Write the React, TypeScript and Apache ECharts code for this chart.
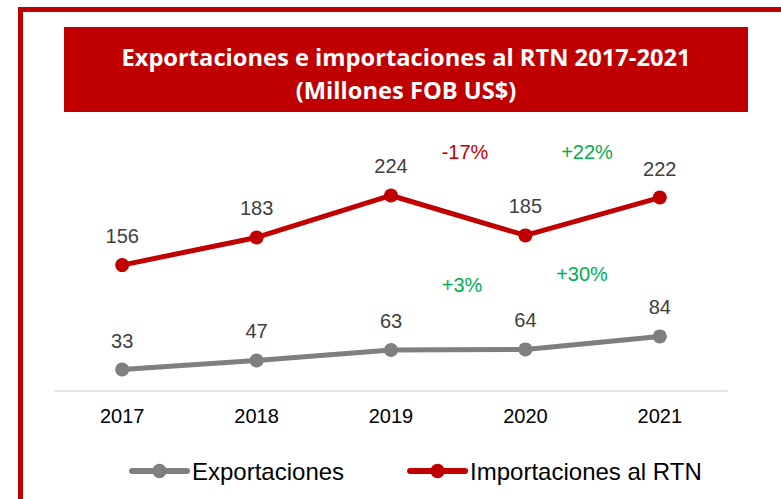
import React, { useEffect, useRef } from "react";
import * as echarts from "echarts";

const years = ["2017", "2018", "2019", "2020", "2021"];
const exportaciones = [33, 47, 63, 64, 84];
const importaciones = [156, 183, 224, 185, 222];
const seriesNames = ["Exportaciones", "Importaciones al RTN"];
const titleLines = ["Exportaciones e importaciones al RTN 2017-2021", "(Millones FOB US$)"];
const importChanges = ["-17%", "+22%"];
const exportChanges = ["+3%", "+30%"];

const RED = "#C00000";
const GRAY = "#7F7F7F";
const GREEN = "#00B050";
const FONT = "'Liberation Sans', Arial, sans-serif";
const TITLE_FONT = "bold 23.7px 'Open Sans', Lato, sans-serif";

export default function App() {
  const ref = useRef<HTMLDivElement>(null);
  useEffect(() => {
    if (!ref.current) return;
    const chart = echarts.init(ref.current, undefined, { renderer: "svg" });
    const label = {
      show: true,
      position: "top",
      distance: 12,
      fontSize: 20,
      color: "#404040",
      fontFamily: FONT,
    };
    chart.setOption({
      animation: false,
      backgroundColor: "#ffffff",
      grid: { left: 55, right: 54, top: 131, bottom: 108 },
      xAxis: {
        type: "category",
        data: years,
        boundaryGap: true,
        axisLine: { show: true, lineStyle: { color: "#D9D9D9", width: 1.5 } },
        axisTick: { show: false },
        axisLabel: { fontSize: 20, color: "#000000", fontFamily: FONT, margin: 15 },
      },
      yAxis: [
        { type: "value", min: 0, max: 400, show: false, splitLine: { show: false } },
        { type: "value", min: 33, max: 287, show: false, splitLine: { show: false } },
      ],
      legend: {
        left: 129,
        top: 459,
        padding: 0,
        itemWidth: 55,
        itemHeight: 18,
        itemGap: 63,
        lineStyle: { width: 6, cap: "round" },
        textStyle: { fontSize: 24, color: "#000000", fontFamily: FONT },
        data: seriesNames,
      },
      series: [
        {
          name: seriesNames[0],
          type: "line",
          yAxisIndex: 0,
          data: exportaciones,
          symbol: "circle",
          symbolSize: 14,
          itemStyle: { color: GRAY },
          lineStyle: { color: GRAY, width: 5, cap: "round" },
          label,
        },
        {
          name: seriesNames[1],
          type: "line",
          yAxisIndex: 1,
          data: importaciones,
          symbol: "circle",
          symbolSize: 14,
          itemStyle: { color: RED },
          lineStyle: { color: RED, width: 5, cap: "round" },
          label,
        },
      ],
      graphic: [
        {
          type: "rect",
          silent: true,
          shape: { x: 20.5, y: 9.5, width: 900, height: 700 },
          style: { fill: "none", stroke: RED, lineWidth: 5 },
        },
        {
          type: "rect",
          silent: true,
          shape: { x: 64, y: 27, width: 684, height: 85 },
          style: { fill: RED },
        },
        {
          type: "text",
          x: 406,
          y: 57,
          style: {
            text: titleLines[0],
            fill: "#ffffff",
            font: TITLE_FONT,
            textAlign: "center",
            textVerticalAlign: "middle",
          },
        },
        {
          type: "text",
          x: 406,
          y: 90,
          style: {
            text: titleLines[1],
            fill: "#ffffff",
            font: TITLE_FONT,
            textAlign: "center",
            textVerticalAlign: "middle",
          },
        },
        {
          type: "text",
          x: 465,
          y: 152,
          style: { text: importChanges[0], fill: RED, font: `20px ${FONT}`, textAlign: "center", textVerticalAlign: "middle" },
        },
        {
          type: "text",
          x: 587,
          y: 152,
          style: { text: importChanges[1], fill: GREEN, font: `20px ${FONT}`, textAlign: "center", textVerticalAlign: "middle" },
        },
        {
          type: "text",
          x: 462,
          y: 285,
          style: { text: exportChanges[0], fill: GREEN, font: `20px ${FONT}`, textAlign: "center", textVerticalAlign: "middle" },
        },
        {
          type: "text",
          x: 582,
          y: 274,
          style: { text: exportChanges[1], fill: GREEN, font: `20px ${FONT}`, textAlign: "center", textVerticalAlign: "middle" },
        },
      ],
    });
    return () => chart.dispose();
  }, []);
  return (
    <div
      ref={ref}
      style={{ position: "absolute", left: 0, top: 0, width: 781, height: 499 }}
    />
  );
}
